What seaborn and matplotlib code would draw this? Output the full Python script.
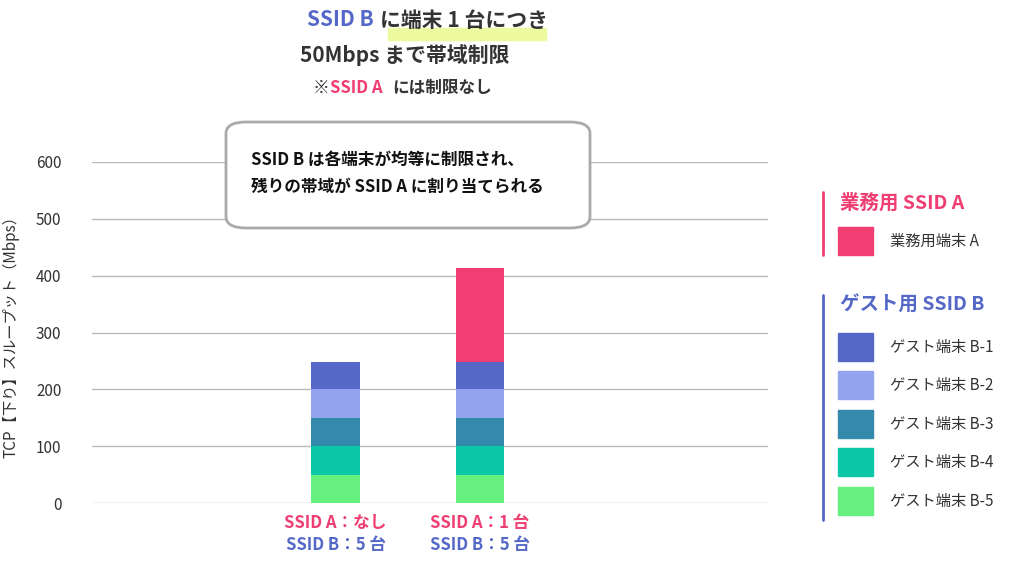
import matplotlib
matplotlib.use("Agg")
import matplotlib.pyplot as plt
import seaborn as sns
from matplotlib.patches import FancyBboxPatch, Rectangle

sns.set_theme(style="white")
plt.rcParams['font.family'] = ['Noto Sans CJK JP', 'DejaVu Sans']

cats = ["c1", "c2"]
series_names = ["ゲスト端末 B-5", "ゲスト端末 B-4", "ゲスト端末 B-3", "ゲスト端末 B-2", "ゲスト端末 B-1", "業務用端末 A"]
series_vals = [[50, 50], [50, 50], [50, 50], [50, 50], [48, 48], [0, 166]]
colors = ["#66f07e", "#0dc8a8", "#338aad", "#93a3ee", "#5568c8", "#f03e72"]
yticks = [0, 100, 200, 300, 400, 500, 600]

PINK = "#f03e72"; BLUE = "#5568c8"; DARK = "#333333"

fig = plt.figure(figsize=(10.24, 5.69), dpi=100)
ax = fig.add_axes([92/1024, 1-503/569, (768-92)/1024, (503-162)/569])
xs = [0, 1]
bottom = [0, 0]
for name, vals, c in zip(series_names, series_vals, colors):
    sns.barplot(x=xs, y=vals, bottom=bottom, native_scale=True, width=0.335, color=c, ax=ax,
                saturation=1, linewidth=0)
    bottom = [b + v for b, v in zip(bottom, vals)]
ax.set_xlim(-1.69, 3.0)
ax.set_ylim(0, 600)
ax.set_yticks(yticks)
ax.set_yticklabels([str(t) for t in yticks], fontsize=11, color=DARK)
ax.yaxis.grid(True, color="#bbbbbb", linewidth=1)
ax.set_axisbelow(True)
ax.set_xticks([])
for s in ax.spines.values():
    s.set_visible(False)
ax.tick_params(axis='y', length=0, pad=22)
ax.set_ylabel("TCP【下り】スループット（Mbps）", fontsize=11, color=DARK, labelpad=12)

for x, a in zip(xs, ["SSID A：なし", "SSID A：1 台"]):
    ax.text(x, -20, a, ha="center", va="top", fontsize=12, color=PINK, fontweight="bold")
    ax.text(x, -58, "SSID B：5 台", ha="center", va="top", fontsize=12, color=BLUE, fontweight="bold")

# title
fig.add_artist(Rectangle((388/1024, 1-40/569), 158/1024, 12/569, transform=fig.transFigure,
                         color="#eefaa0", zorder=0))
fig.text(374/1024, 1-20/569, "SSID B", color=BLUE, fontsize=15, fontweight="bold", ha="right", va="center")
fig.text(380/1024, 1-20/569, "に端末 1 台につき", color=DARK, fontsize=15, fontweight="bold", ha="left", va="center")
fig.text(405/1024, 1-55/569, "50Mbps まで帯域制限", color=DARK, fontsize=15, fontweight="bold", ha="center", va="center")
fig.text(313/1024, 1-88/569, "※", color=DARK, fontsize=12, fontweight="bold", ha="left", va="center")
fig.text(330/1024, 1-88/569, "SSID A", color=PINK, fontsize=12, fontweight="bold", ha="left", va="center")
fig.text(392/1024, 1-88/569, "には制限なし", color=DARK, fontsize=12, fontweight="bold", ha="left", va="center")

box = FancyBboxPatch((226/1024, 1-228/569), (590-226)/1024, (228-122)/569,
                     boxstyle="round,pad=0,rounding_size=0.02", transform=fig.transFigure,
                     facecolor="white", edgecolor="#aaaaaa", linewidth=2)
fig.add_artist(box)
fig.text(0.245, 1-160/569, "SSID B は各端末が均等に制限され、", fontsize=12, fontweight="bold", color="#111111", va="center")
fig.text(0.245, 1-187/569, "残りの帯域が SSID A に割り当てられる", fontsize=12, fontweight="bold", color="#111111", va="center")

def sw(y, c, label):
    fig.add_artist(Rectangle((838/1024, 1-(y+14)/569), 35/1024, 28/569, transform=fig.transFigure, color=c))
    fig.text(890/1024, 1-y/569, label, fontsize=11, color=DARK, va="center")
fig.add_artist(plt.Line2D([823/1024]*2, [1-192/569, 1-255/569], transform=fig.transFigure, color=PINK, lw=2))
fig.text(840/1024, 1-203/569, "業務用 SSID A", fontsize=14, fontweight="bold", color=PINK, va="center")
sw(241, colors[5], "業務用端末 A")
fig.add_artist(plt.Line2D([823/1024]*2, [1-295/569, 1-520/569], transform=fig.transFigure, color=BLUE, lw=2))
fig.text(840/1024, 1-305/569, "ゲスト用 SSID B", fontsize=14, fontweight="bold", color=BLUE, va="center")
for y, i in zip([347, 385, 424, 462, 501], [4, 3, 2, 1, 0]):
    sw(y, colors[i], series_names[i])

fig.savefig("out.png", dpi=100)
